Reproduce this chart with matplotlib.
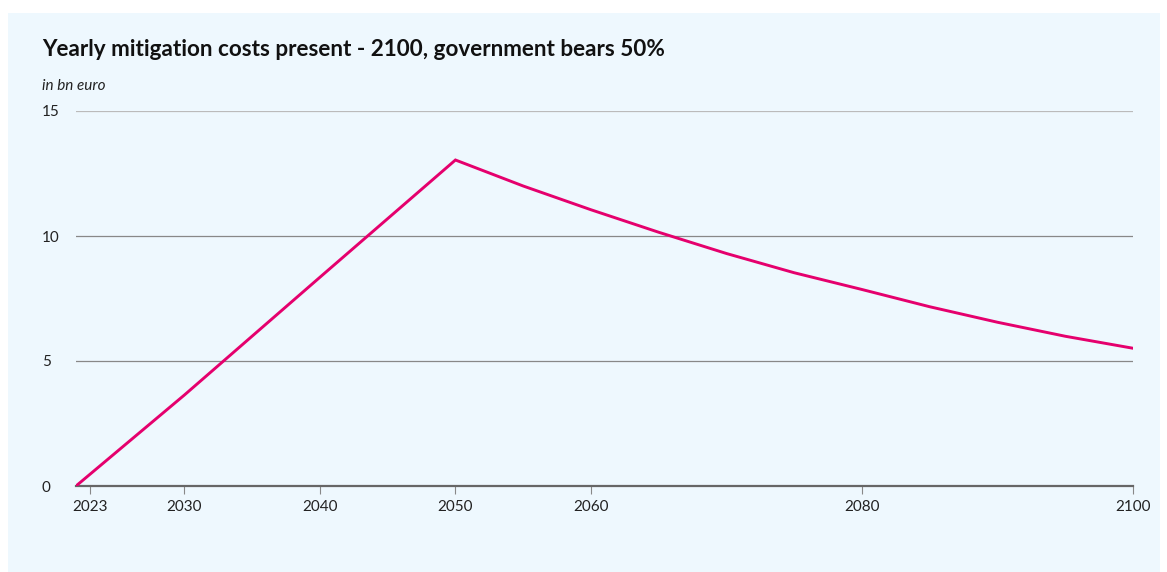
import matplotlib.pyplot as plt
from matplotlib.patches import Rectangle

plt.rcParams['font.family'] = ['Lato', 'DejaVu Sans']

years = [2022, 2030, 2040, 2050, 2055, 2060, 2065, 2070, 2075, 2080, 2085, 2090, 2095, 2100]
costs = [0, 3.64, 8.35, 13.04, 12.0, 11.05, 10.15, 9.3, 8.53, 7.86, 7.17, 6.55, 5.99, 5.51]

x_ticks = [2023, 2030, 2040, 2050, 2060, 2080, 2100]
y_ticks = [0, 5, 10, 15]

title = 'Yearly mitigation costs present - 2100, government bears 50%'
subtitle = 'in bn euro'

fig = plt.figure(figsize=(11.67, 5.72), dpi=100)
fig.patch.set_facecolor('white')
W, H = 1167, 572
# light blue panel behind everything
fig.patches.append(Rectangle((8 / W, 0), (1160 - 8) / W, (H - 13) / H,
                             transform=fig.transFigure, facecolor='#eef8fe',
                             edgecolor='none', zorder=-5))

ax = fig.add_axes([76 / W, (H - 486) / H, (1133 - 76) / W, (486 - 111) / H])
ax.set_zorder(2)
ax.set_facecolor('none')
ax.plot(years, costs, color='#e5006d', lw=2.1, solid_joinstyle='miter', zorder=3)

ax.set_xlim(2022, 2100)
ax.set_ylim(0, 15)
ax.set_xticks(x_ticks)
ax.set_yticks(y_ticks)
for s in ['top', 'right', 'left']:
    ax.spines[s].set_visible(False)
ax.spines['bottom'].set_color('#666666')
ax.spines['bottom'].set_linewidth(1.6)

for v in y_ticks[1:]:
    ax.axhline(v, color='#bbbbbb' if v == 15 else '#888888', lw=0.9, zorder=1)

ax.tick_params(axis='y', length=0, pad=34 * 0.72, labelsize=11, labelcolor='#222222')
for lab in ax.get_yticklabels():
    lab.set_horizontalalignment('left')
ax.tick_params(axis='x', length=6, width=0.8, color='#888888', pad=4,
               labelsize=11, labelcolor='#222222')

fig.text(42 / W, 1 - 50 / H, title, fontsize=16.2, fontweight='bold',
         color='#111111', va='center', ha='left')
fig.text(42 / W, 1 - 86 / H, subtitle, fontsize=11, style='italic',
         color='#222222', va='center', ha='left')

fig.savefig('out.png', dpi=100)
